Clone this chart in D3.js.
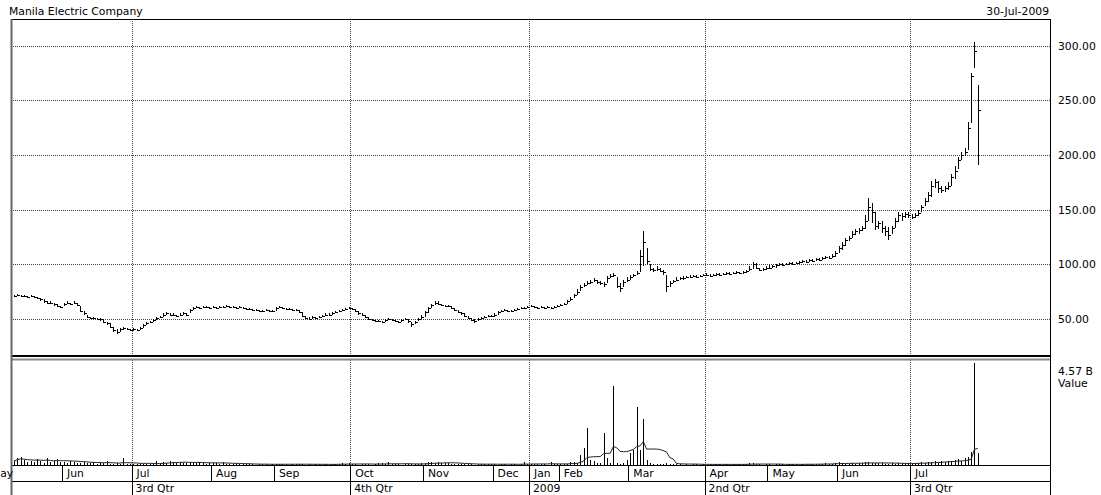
<!DOCTYPE html>
<html>
<head>
<meta charset="utf-8">
<script src="https://cdnjs.cloudflare.com/ajax/libs/d3/7.8.5/d3.min.js"></script>
<style>
body{margin:0;background:#fff;}
svg text{font-family:"DejaVu Sans",sans-serif;font-size:10.8px;fill:#000;}
</style>
</head>
<body>
<svg class="chart"></svg>
<script>
// months shown on the time axis, and how many trading bars each has
var monthNames = ["May","Jun","Jul","Aug","Sep","Oct","Nov","Dec","Jan","Feb","Mar","Apr","May","Jun","Jul"];
var monthBars  = [15,21,24,19,23,22,21,11,9,21,23,19,21,22,21];
var monthLead  = 8;   // May bars before the first one on the chart
var quarterNames  = ["3rd Qtr","4th Qtr","2009","2nd Qtr","3rd Qtr"];
var quarterMonths = [2,5,8,11,14];

// daily prices (PHP), May 2008 .. 30 Jul 2009
var closes = [
  71,72,71,71,70,71,70,69,68,66,65,65,64,62,61,
  64,65,64,65,63,57,55,52,51,51,50,50,47,46,43,40,38,41,42,41,40,
  41,40,42,44,46,47,49,51,52,54,55,54,54,53,54,55,54,58,60,61,60,61,61,60,
  61,60,61,61,62,61,61,60,61,60,59,59,58,58,57,57,58,57,57,
  60,61,60,59,59,58,58,56,53,51,50,52,51,52,53,54,54,55,56,57,58,59,60,
  59,57,55,54,52,50,49,48,48,47,49,50,49,48,47,49,50,48,45,47,50,52,
  56,60,63,65,64,63,62,62,60,58,56,55,53,51,49,48,50,51,52,53,53,
  54,56,57,58,57,57,58,59,60,60,61,
  62,61,60,61,60,61,60,61,62,
  63,64,66,68,72,75,79,81,83,84,86,84,83,82,87,89,90,80,78,84,86,
  88,90,92,108,120,103,96,95,96,94,93,80,83,85,86,87,87,88,88,89,88,89,90,
  90,89,90,91,90,91,92,91,92,93,92,93,94,96,100,97,95,96,97,
  97,98,99,100,99,100,101,100,101,102,103,102,104,103,105,104,106,107,106,108,110,
  115,118,122,124,128,130,131,133,140,152,148,135,138,133,130,127,133,140,145,144,146,145,
  143,145,147,152,158,163,172,175,170,168,170,172,180,185,195,200,203,225,272,295,241
];
var highs = [
  72,73,72,72,71,72,71,70,69,68,66,66,65,64,62,
  65,66,65,66,65,62,57,54,52,52,51,51,50,47,46,43,41,42,43,42,41,
  42,41,43,45,47,48,50,52,53,55,56,55,55,54,55,56,55,59,61,62,61,62,62,61,
  62,61,62,62,63,62,62,61,62,61,60,60,59,59,58,58,59,58,58,
  61,62,61,60,60,59,59,58,56,53,52,53,52,53,54,55,55,56,57,58,59,60,61,
  60,59,57,55,54,52,50,49,49,48,50,51,50,49,48,50,51,50,47,48,51,54,
  57,61,64,66,66,64,63,63,62,60,58,56,55,53,51,50,51,52,53,54,54,
  55,57,58,59,58,58,59,60,61,61,62,
  63,62,61,62,61,62,61,62,63,
  64,65,67,70,73,77,81,83,85,86,87,86,85,84,89,91,92,88,83,86,88,
  90,91,94,113,130,115,100,97,98,97,95,90,85,86,88,88,89,89,90,90,90,90,91,
  92,91,91,92,92,92,93,93,93,94,93,94,95,98,102,101,97,97,98,
  99,99,100,101,101,101,102,102,102,103,104,104,105,105,106,106,107,108,108,109,112,
  117,120,124,126,130,132,133,135,145,161,156,148,140,140,135,134,135,142,148,147,148,148,
  146,147,150,154,161,166,176,178,176,172,172,175,183,190,198,203,206,230,275,303,264
];
var lows = [
  70,71,70,70,69,70,69,68,66,65,64,64,62,61,60,
  62,64,63,64,62,56,54,51,50,50,49,48,46,44,42,38,36,38,40,40,39,
  39,39,40,42,44,46,47,49,51,52,54,53,53,52,53,54,53,55,58,60,59,60,60,59,
  60,59,60,60,61,60,60,59,60,59,58,58,57,57,56,56,57,56,56,
  57,60,59,58,58,57,57,55,52,50,49,50,50,51,52,53,53,54,55,56,57,58,59,
  58,56,54,53,51,49,48,47,47,46,47,49,48,47,46,47,49,46,43,45,48,50,
  52,55,60,63,63,62,61,61,59,57,55,54,52,50,48,46,48,50,51,52,52,
  52,54,56,57,56,56,57,58,59,59,60,
  61,60,59,60,59,60,59,60,61,
  62,63,64,66,69,72,76,79,81,82,84,82,81,79,83,87,88,78,75,79,84,
  86,88,90,93,98,100,94,93,94,93,90,75,79,83,85,86,86,87,87,88,87,88,89,
  89,88,89,89,89,90,90,90,91,91,91,91,92,94,96,96,94,94,95,
  96,97,97,98,98,99,99,99,100,100,101,101,102,102,103,103,104,105,105,106,107,
  110,113,117,121,124,127,128,130,132,140,138,131,132,129,126,122,128,133,139,140,142,142,
  141,142,144,148,153,157,162,170,165,165,166,168,172,178,187,195,199,205,229,280,191
];
// traded value, billions of PHP
var values = [
  .18,.30,.35,.22,.15,.20,.12,.25,.20,.10,.30,.15,.20,.28,.15,
  .15,.10,.20,.12,.08,.10,.15,.08,.10,.12,.05,.10,.08,.20,.06,.05,.07,.05,.30,.05,.04,
  .04,.05,.03,.05,.06,.05,.04,.20,.08,.15,.10,.18,.12,.10,.15,.08,.10,.12,.08,.10,.14,.09,.06,.10,
  .08,.10,.06,.12,.05,.06,.04,.05,.06,.03,.04,.05,.03,.02,.03,.04,.03,.02,.03,
  .03,.04,.06,.03,.02,.03,.05,.04,.03,.02,.03,.02,.04,.03,.02,.03,.02,.03,.04,.05,.08,.03,.10,
  .03,.04,.02,.05,.03,.04,.02,.03,.08,.10,.05,.12,.04,.03,.05,.02,.04,.06,.03,.05,.04,.08,
  .10,.12,.15,.10,.12,.08,.10,.09,.06,.05,.04,.03,.05,.04,.03,.02,.03,.04,.06,.03,.05,
  .03,.02,.04,.03,.02,.05,.03,.02,.04,.12,.05,
  .04,.06,.03,.05,.03,.02,.12,.04,.05,
  .05,.04,.06,.13,.13,.10,.44,.75,1.64,.22,.18,.09,.10,1.42,.31,.10,3.55,.08,.06,.07,.22,
  .53,.66,2.62,.66,2.04,.22,.08,.06,.04,.05,.03,.10,.06,.04,.03,.05,.02,.03,.02,.04,.03,.02,.03,
  .02,.03,.02,.03,.04,.02,.03,.02,.03,.02,.03,.04,.03,.08,.10,.04,.03,.02,.03,
  .03,.02,.03,.04,.03,.02,.03,.04,.03,.02,.03,.05,.04,.03,.06,.04,.05,.08,.04,.06,.10,
  .12,.08,.06,.07,.09,.06,.08,.10,.12,.15,.10,.08,.07,.09,.06,.05,.07,.06,.10,.08,.06,.07,
  .06,.08,.10,.12,.10,.15,.14,.16,.12,.18,.15,.20,.18,.22,.25,.20,.30,.35,.60,4.57,.55
];
var priceTicks = [50,100,150,200,250,300];
var valueMax = 4.57;
var avgDays = 10;

var svg = {};
(function(){
    var self = this
    , width = 1101
    , height = 495;

    self.canvas = d3.select(".chart")
        .attr("width", width)
        .attr("height", height);
    self.left = 11;
    self.right = 1050;
    self.top = 19;
    self.priceBottom = 355;
    self.volTop = 360;
    self.volBottom = 465;
    self.monthBottom = 481;
}).apply(svg);

var c = svg.canvas;
var n = closes.length;

var x = d3.scaleLinear()
    .domain([-0.9, n + 20.8])
    .range([svg.left, svg.right]);
var y = d3.scaleLinear()
    .domain([17, 324.4])
    .range([svg.priceBottom, svg.top]);
var yv = d3.scaleLinear()
    .domain([0, valueMax])
    .range([svg.volBottom, 363]);

function px(v){ return Math.round(v) + 0.5; }

// month start bar index
var starts = [-monthLead];
var acc = 0;
for(var k=1;k<monthBars.length;k++){
    acc += monthBars[k-1];
    starts.push(acc);
}
function edge(k){ return x(starts[k] - 0.5); }

// grid lines
c.append("g").selectAll("line")
  .data(priceTicks)
  .enter()
  .append("line")
  .attr("x1", svg.left).attr("x2", svg.right)
  .attr("y1", function(d){ return px(y(d)); })
  .attr("y2", function(d){ return px(y(d)); })
  .attr("stroke", "#444")
  .attr("stroke-dasharray", "1,1");

var vgrid = c.append("g").selectAll("g")
  .data(quarterMonths)
  .enter()
  .append("g");
vgrid.append("line")
  .attr("x1", function(d){ return px(edge(d)); })
  .attr("x2", function(d){ return px(edge(d)); })
  .attr("y1", svg.top).attr("y2", svg.priceBottom)
  .attr("stroke", "#444").attr("stroke-dasharray", "1,1");
vgrid.append("line")
  .attr("x1", function(d){ return px(edge(d)); })
  .attr("x2", function(d){ return px(edge(d)); })
  .attr("y1", svg.volTop).attr("y2", svg.volBottom)
  .attr("stroke", "#444").attr("stroke-dasharray", "1,1");

// price bars
var idx = d3.range(n);
var bars = c.append("g")
  .attr("stroke", "#000")
  .attr("shape-rendering", "crispEdges")
  .selectAll("g")
  .data(idx)
  .enter()
  .append("g");
bars.append("line")
  .attr("x1", function(i){ return px(x(i)); })
  .attr("x2", function(i){ return px(x(i)); })
  .attr("y1", function(i){ return y(highs[i]); })
  .attr("y2", function(i){ return y(lows[i]); });
bars.append("line")
  .attr("x1", function(i){ return px(x(i)); })
  .attr("x2", function(i){ return px(x(i)) + 2; })
  .attr("y1", function(i){ return px(y(closes[i])); })
  .attr("y2", function(i){ return px(y(closes[i])); });

// traded value bars + moving average
c.append("g")
  .attr("stroke", "#000")
  .attr("shape-rendering", "crispEdges")
  .selectAll("line")
  .data(idx)
  .enter()
  .append("line")
  .attr("x1", function(i){ return px(x(i)); })
  .attr("x2", function(i){ return px(x(i)); })
  .attr("y1", yv(0))
  .attr("y2", function(i){ return yv(values[i]); });

var avg = idx.map(function(i){
    return d3.mean(values.slice(Math.max(0, i - avgDays + 1), i + 1));
});
c.append("path")
  .datum(idx)
  .attr("fill", "none")
  .attr("stroke", "#222")
  .attr("stroke-width", 1)
  .attr("d", d3.line()
      .x(function(i){ return x(i); })
      .y(function(i){ return yv(avg[i]); }));

// frames
c.append("line").attr("x1", svg.left).attr("x2", svg.right)
  .attr("y1", svg.top + 0.5).attr("y2", svg.top + 0.5).attr("stroke", "#000");
c.append("line").attr("x1", svg.left).attr("x2", svg.right)
  .attr("y1", svg.priceBottom + 1).attr("y2", svg.priceBottom + 1)
  .attr("stroke", "#000").attr("stroke-width", 2);
c.append("line").attr("x1", svg.left).attr("x2", svg.right)
  .attr("y1", svg.volTop - 0.5).attr("y2", svg.volTop - 0.5)
  .attr("stroke", "#888").attr("stroke-width", 2);
c.append("line").attr("x1", svg.left).attr("x2", svg.right)
  .attr("y1", svg.volBottom + 0.5).attr("y2", svg.volBottom + 0.5).attr("stroke", "#000");
c.append("line").attr("x1", svg.left).attr("x2", svg.right)
  .attr("y1", svg.monthBottom + 0.5).attr("y2", svg.monthBottom + 0.5).attr("stroke", "#000");
c.append("line").attr("x1", svg.left + 0.5).attr("x2", svg.left + 0.5)
  .attr("y1", svg.top).attr("y2", 495).attr("stroke", "#666").attr("stroke-width", 2);
c.append("line").attr("x1", svg.right + 0.5).attr("x2", svg.right + 0.5)
  .attr("y1", svg.top).attr("y2", 495).attr("stroke", "#000");

// time axis: months and quarters
c.append("g").selectAll("line")
  .data(d3.range(1, monthNames.length))
  .enter()
  .append("line")
  .attr("x1", function(k){ return px(edge(k)); })
  .attr("x2", function(k){ return px(edge(k)); })
  .attr("y1", svg.volBottom)
  .attr("y2", function(k){ return quarterMonths.indexOf(k) >= 0 ? 495 : svg.monthBottom; })
  .attr("stroke", "#000");

c.append("g").selectAll("text")
  .data(monthNames)
  .enter()
  .append("text")
  .attr("x", function(d, k){ return edge(k) + 5; })
  .attr("y", 477)
  .text(function(d){ return d; });

c.append("g").selectAll("text")
  .data(quarterNames)
  .enter()
  .append("text")
  .attr("x", function(d, k){ return edge(quarterMonths[k]) + 4; })
  .attr("y", 492)
  .text(function(d){ return d; });

// price labels
c.append("g").selectAll("text")
  .data(priceTicks)
  .enter()
  .append("text")
  .attr("x", 1058)
  .attr("y", function(d){ return y(d) + 4; })
  .text(function(d){ return d3.format(".2f")(d); });

c.append("text").attr("x", 1058).attr("y", 375).text(valueMax + " B");
c.append("text").attr("x", 1058).attr("y", 387).text("Value");

c.append("text").attr("x", 9).attr("y", 15).text("Manila Electric Company");
c.append("text").attr("x", 1049).attr("y", 15).attr("text-anchor", "end").text("30-Jul-2009");
</script>
</body>
</html>
